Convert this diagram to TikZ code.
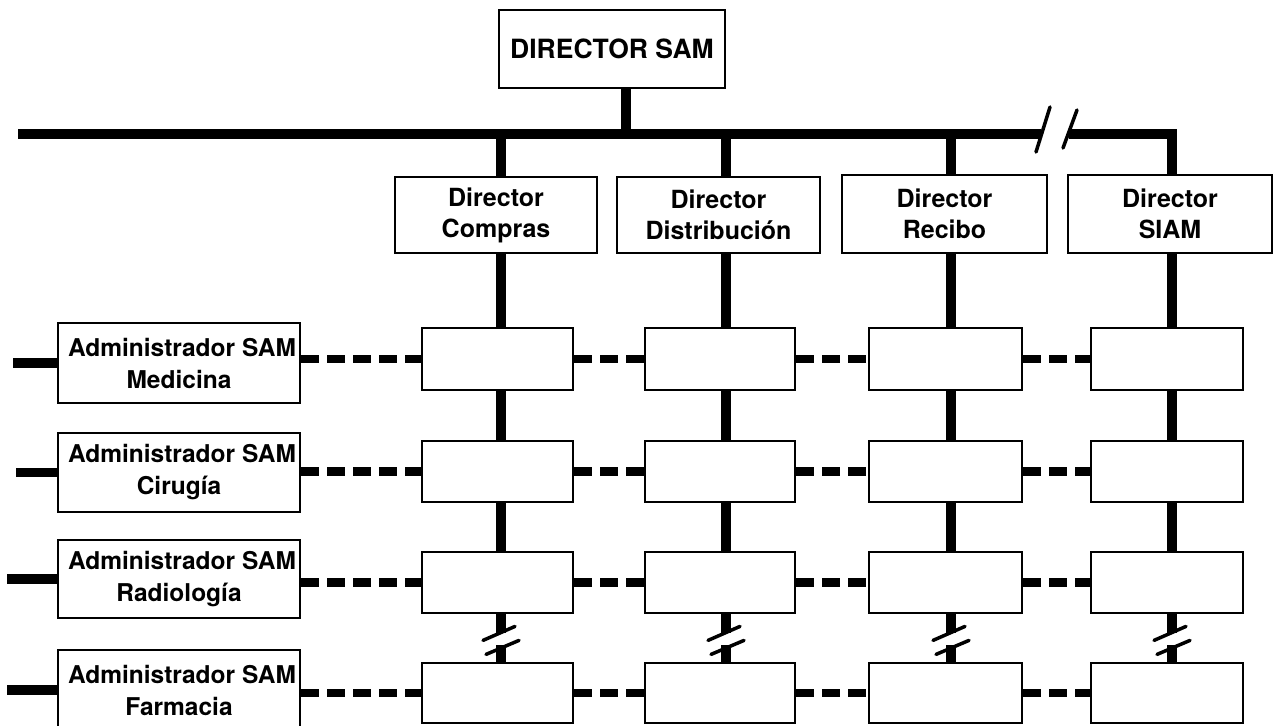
\documentclass[tikz,border=0pt]{standalone}
\usepackage{fontspec}
\setmainfont{TeX Gyre Heros}
\usetikzlibrary{calc}
\begin{document}
\begin{tikzpicture}[x=1pt,y=-1pt,
  box/.style={draw, line width=2.8pt, inner sep=0pt, align=center, font=\bfseries\fontsize{25}{31}\selectfont},
  adm/.style={box, font=\bfseries\fontsize{24.5}{32}\selectfont},
  cell/.style={draw, line width=2.8pt, inner sep=0pt},
  bar/.style={line width=9.5pt},
  dline/.style={line width=8.5pt, dash pattern=on 18pt off 8pt},
  slash/.style={line width=3.5pt, line cap=round}]
\useasboundingbox (0,0) rectangle (1273,725);

% top director
\node[box, minimum width=226, minimum height=78, font=\bfseries\fontsize{26.5}{32}\selectfont] (top) at (612,49) {DIRECTOR SAM};

% directors
\node[box, minimum width=202, minimum height=76] (d1) at (496,215) {Director\\Compras};
\node[box, minimum width=203, minimum height=76] (d2) at (718.5,215) {Director\\Distribución};
\node[box, minimum width=205, minimum height=78] (d3) at (944.5,214) {Director\\Recibo};
\node[box, minimum width=204, minimum height=78] (d4) at (1170,214) {Director\\SIAM};

% grid cells
\foreach \c/\x/\w in {1/497.5/151, 2/720/150, 3/945.5/153, 4/1167/152}
  \foreach \j/\y/\h in {1/359/62, 2/471.5/61, 3/582.5/61, 4/693/60}
    \node[cell, minimum width=\w, minimum height=\h] (g\j\c) at (\x,\y) {};

% administrators
\node[adm, minimum width=242, minimum height=80] (l1) at (179,363) {\hspace*{6pt}Administrador SAM\\Medicina};
\node[adm, minimum width=242, minimum height=79] (l2) at (179,472.5) {\hspace*{6pt}Administrador SAM\\Cirugía};
\node[adm, minimum width=242, minimum height=78] (l3) at (179,579) {\hspace*{6pt}Administrador SAM\\Radiología};
\node[adm, minimum width=242, minimum height=80] (l4) at (179,690) {\hspace*{6pt}Administrador SAM\\Farmacia};

% column positions
\coordinate (c0) at (626,0);
\coordinate (c1) at (501,0);
\coordinate (c2) at (726,0);
\coordinate (c3) at (951,0);
\coordinate (c4) at (1172,0);
\coordinate (barL) at (18,134);
\coordinate (barB1) at (1041,134);
\coordinate (barB2) at (1069,134);

% main bar
\draw[bar] (barL) -- (barB1);
\draw[bar, line join=miter] (barB2) -- (barB2 -| c4) -- (d4.north -| c4);
\draw[slash] ($(barB1)+(-5,18)$) -- ++(14,-45);
\draw[slash] ($(barB2)+(-6,14)$) -- ++(14,-38);
\draw[bar] (top.south -| c0) -- (barL -| c0);
\foreach \i in {1,2,3}
  \draw[bar] (barL -| c\i) -- (d\i.north -| c\i);

% columns
\foreach \i in {1,...,4} {
  \draw[bar] (d\i.south -| c\i) -- (g1\i.north -| c\i);
  \draw[bar] (g1\i.south -| c\i) -- (g2\i.north -| c\i);
  \draw[bar] (g2\i.south -| c\i) -- (g3\i.north -| c\i);
  \draw[bar] (g3\i.south -| c\i) -- ++(0,19);
  \draw[bar] (g4\i.north -| c\i) -- ++(0,-17);
  \draw[slash] ($(g3\i.south -| c\i)+(-18,26)$) -- ++(32,-14);
  \draw[slash] ($(g3\i.south -| c\i)+(-15,40)$) -- ++(33,-14);
}

% rows
\foreach \j/\s in {1/44, 2/41, 3/50, 4/50} {
  \draw[dline] (l\j.east |- g\j1.west) -- (g\j1.west);
  \draw[dline] (g\j1.east) -- (g\j2.west);
  \draw[dline] (g\j2.east) -- (g\j3.west);
  \draw[dline] (g\j3.east) -- (g\j4.west);
  \draw[bar] (l\j.west) -- ++(-\s,0);
}
\end{tikzpicture}
\end{document}
